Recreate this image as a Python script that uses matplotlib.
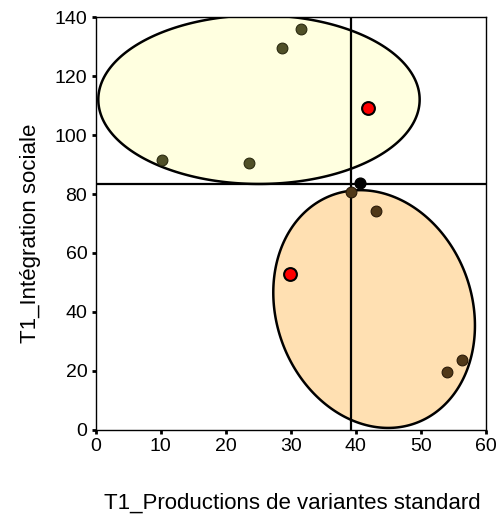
import numpy as np
import matplotlib.pyplot as plt

plt.rcParams['font.family'] = ['Liberation Sans', 'DejaVu Sans']

# points of group 1 (upper ellipse) and group 2 (lower ellipse)
g1_x = [31.5, 28.7, 10.2, 23.6]
g1_y = [135.8, 129.6, 91.5, 90.6]
g2_x = [39.3, 43.1, 54.0, 56.3]
g2_y = [80.6, 74.4, 19.8, 23.6]
# highlighted (red) points
red_x = [41.8, 29.8]
red_y = [109.1, 53.0]
# centre point
ctr_x = [40.6]
ctr_y = [83.6]
# reference lines
vline_x = 39.3
hline_y = 83.5

# ellipses: centre, half extents, phase (correlation)
ell_top = dict(cx=25.1, cy=112.0, hx=24.7, hy=28.6, phi=90.0)
ell_bot = dict(cx=42.8, cy=41.0, hx=15.5, hy=40.3, phi=98.0)


def ellipse_xy(e, n=300):
    t = np.linspace(0, 2 * np.pi, n, endpoint=False)
    x = e['cx'] + e['hx'] * np.cos(t)
    y = e['cy'] + e['hy'] * np.cos(t + np.radians(e['phi']))
    return x, y


fig = plt.figure(figsize=(5, 5.17), dpi=100)
ax = fig.add_axes([0.1914, 0.1683, 0.7806, 0.7988])

for e, fc in [(ell_top, '#ffffe0'), (ell_bot, '#ffe0b2')]:
    x, y = ellipse_xy(e)
    ax.fill(x, y, facecolor=fc, edgecolor='black', linewidth=1.8,
            joinstyle='round', zorder=1)

ax.axvline(vline_x, color='black', lw=1.6, zorder=3)
ax.axhline(hline_y, color='black', lw=1.6, zorder=3)

ax.scatter(g1_x, g1_y, s=60, color='#505028', edgecolors='#2a2a10',
           linewidths=0.8, zorder=4)
ax.scatter(g2_x, g2_y, s=60, color='#503818', edgecolors='#2a1a08',
           linewidths=0.8, zorder=4)
ax.scatter(red_x, red_y, s=85, color='#ff0000', edgecolors='black',
           linewidths=1.5, zorder=5)
ax.scatter(ctr_x, ctr_y, s=60, color='black', zorder=5)

ax.set_xlim(0, 60)
ax.set_ylim(0, 140)
ax.set_xticks(range(0, 61, 10))
ax.set_yticks(range(0, 141, 20))
ax.tick_params(labelsize=14, length=3, width=2, pad=3)
for s in ax.spines.values():
    s.set_linewidth(1.0)

ax.set_xlabel('T1_Productions de variantes standard', fontsize=16,
              va='center')
ax.set_ylabel('T1_Intégration sociale', fontsize=16, va='center')
ax.xaxis.set_label_coords(0.503, -0.177)
ax.yaxis.set_label_coords(-0.168, 0.477)

fig.savefig('out.png', dpi=100)
